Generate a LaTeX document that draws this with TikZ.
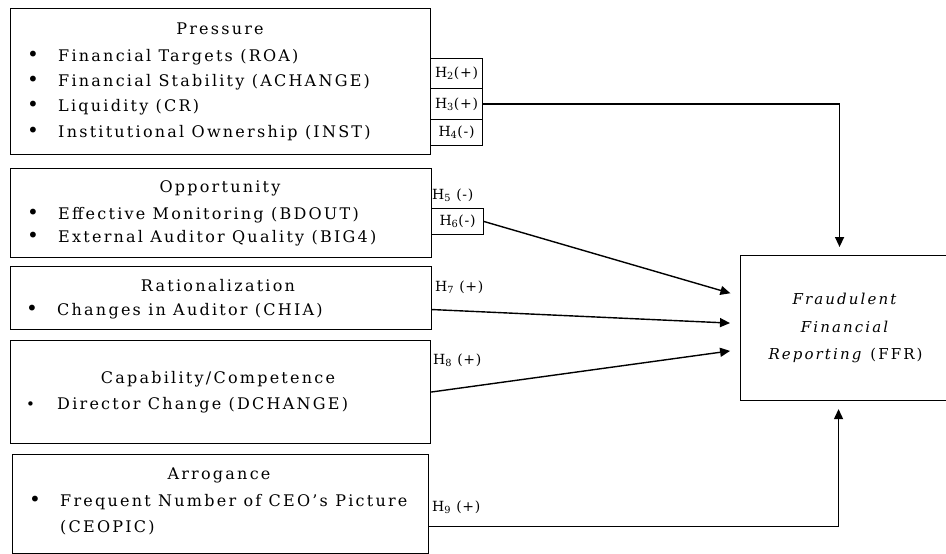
\documentclass[tikz,border=0pt]{standalone}
\usepackage{fontspec}
\setmainfont{DejaVu Serif}[LetterSpace=14]
\newfontfamily\hfont{DejaVu Serif}[LetterSpace=5]
\usetikzlibrary{arrows.meta,calc,positioning}
\newcommand{\itm}[1]{\makebox[31pt][l]{\fontsize{20}{18}\selectfont\textbullet}#1}
\newcommand{\hyp}[2]{H\textsubscript{#1}#2}

\begin{document}
\begin{tikzpicture}[
    x=1pt, y=-1pt,
    box/.style={draw, line width=1.1pt, rectangle, inner sep=0, anchor=north west},
    ttl/.style={inner sep=0, font=\fontsize{16}{18}\selectfont},
    itmnode/.style={inner sep=0, anchor=west, font=\fontsize{16}{18}\selectfont},
    hcell/.style={draw, line width=1pt, rectangle, inner sep=0, anchor=north west,
        minimum width=52pt, font=\hfont\fontsize{14}{16}\selectfont},
    hlab/.style={inner sep=0, anchor=west, font=\hfont\fontsize{14}{16}\selectfont},
    link/.style={line width=1.4pt, -{Triangle[length=10pt,width=9pt]}}]
\useasboundingbox (0,0) rectangle (946,554);
\clip (0,0) rectangle (946,554);

\node[box, minimum width=420pt, minimum height=146pt] (press) at (10,8) {};
\node[ttl] (press-t) at (220,29) {Pressure};
\node[itmnode] (press-1) at (27,57)  {\itm{Financial Targets (ROA)}};
\node[itmnode] (press-2) at (27,82)  {\itm{Financial Stability (ACHANGE)}};
\node[itmnode] (press-3) at (27,107) {\itm{Liquidity (CR)}};
\node[itmnode] (press-4) at (27,133) {\itm{Institutional Ownership (INST)}};

\node[box, minimum width=421pt, minimum height=89pt] (oppo) at (10,168) {};
\node[ttl] (oppo-t) at (220,188) {Opportunity};
\node[itmnode] (oppo-1) at (27,215) {\itm{Effective Monitoring (BDOUT)}};
\node[itmnode] (oppo-2) at (27,238) {\itm{External Auditor Quality (BIG4)}};

\node[box, minimum width=421pt, minimum height=63pt] (ratio) at (10,266) {};
\node[ttl] (ratio-t) at (218,286) {Rationalization};
\node[itmnode] (ratio-1) at (26,311) {\itm{Changes in Auditor (CHIA)}};

\node[box, minimum width=420pt, minimum height=103pt] (capab) at (10,340) {};
\node[ttl] (capab-t) at (218,379) {Capability/Competence};
\node[itmnode] (capab-1) at (26,405) {\makebox[31pt][l]{\fontsize{15}{16}\selectfont\textbullet}Director Change (DCHANGE)};

\node[box, minimum width=416pt, minimum height=99pt] (arrog) at (12,454) {};
\node[ttl] (arrog-t) at (219,475) {Arrogance};
\node[itmnode] (arrog-1) at (29,502) {\itm{Frequent Number of CEO’s Picture}};
\node[itmnode] (arrog-2) at (60,528) {(CEOPIC)};

\node[box, minimum width=210pt, minimum height=145pt, align=center,
      font=\fontsize{15}{27.5}\selectfont] (ffr) at (740,255)
      {\textit{Fraudulent}\\\textit{Financial}\\\textit{Reporting} (FFR)};

\node[hcell, minimum height=30pt] (h2) at (430,58)  {\hyp{2}{(+)}};
\node[hcell, minimum height=31pt] (h3) at (430,88)  {\hyp{3}{(+)}};
\node[hcell, minimum height=26pt] (h4) at (430,119) {\hyp{4}{(-)}};
\node[hlab] (h5) at (432,195) {\hyp{5}{ (-)}};
\node[hcell, minimum height=26pt] (h6) at (431,208) {\hyp{6}{(-)}};
\node[hlab] (h7) at (435,287) {\hyp{7}{ (+)}};
\node[hlab] (h8) at (433,360) {\hyp{8}{ (+)}};
\node[hlab] (h9) at (432,507) {\hyp{9}{ (+)}};

\path[draw, link, shorten >=8pt] (h3.east) -| ([xshift=-6pt]ffr.north);
\path[draw, link, shorten >=10pt] (h6.east) -- ([yshift=32pt]ffr.west);
\path[draw, link, shorten >=10pt] ([yshift=-11.5pt]ratio.east) -- ([yshift=4.5pt]ffr.west);
\path[draw, link, shorten >=10pt] (capab.east) -- ([yshift=-21.5pt]ffr.west);
\path[draw, link, shorten >=8pt] ([yshift=-22.5pt]arrog.east) -| ([xshift=-7pt]ffr.south);

\end{tikzpicture}
\end{document}
